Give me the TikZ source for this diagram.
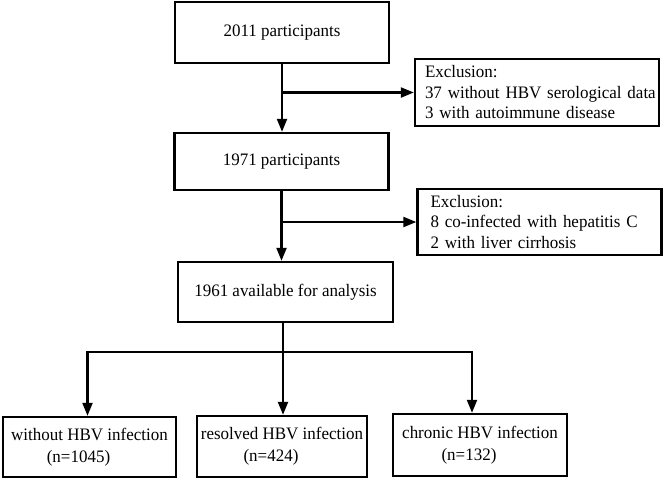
\documentclass[tikz,border=0pt]{standalone}
\usepackage{fontspec}
\setmainfont[FakeStretch=0.97]{Liberation Serif}
\usetikzlibrary{arrows.meta}

\begin{document}
\begin{tikzpicture}[x=1pt, y=-1pt,
    font=\fontsize{17.5}{20.5}\selectfont,
    box/.style={rectangle, draw, line width=2.4pt, align=center, inner sep=0pt},
    exclbox/.style={rectangle, draw, line width=2.4pt, align=left, text width=218pt, inner xsep=13pt, inner ysep=0pt, minimum height=67pt},
    arr/.style={line width=2.2pt, -{Triangle[length=13pt, width=10pt]}}]
\useasboundingbox (0,0) rectangle (664,480);

% Main flow
\node[box, minimum width=214pt, minimum height=61pt] (p2011) at (282,32.5) {2011 participants};
\node[box, minimum width=214pt, minimum height=57pt] (p1971) at (281.5,161.5) {1971 participants};
\node[box, minimum width=215pt, minimum height=60pt] (p1961) at (285.5,292) {1961 available for analysis};

% Exclusions
\node[exclbox, text width=224pt, inner xsep=10pt] (ex1) at (537,92.5) {Exclusion:\\\mbox{37 without HBV serological data}\\3 with autoimmune disease};
\node[exclbox, minimum height=66pt] (ex2) at (539.5,222) {Exclusion:\\\mbox{8 co-infected with hepatitis C}\\2 with liver cirrhosis};

% Groups
\node[box, minimum width=173pt, minimum height=60pt] (g1) at (89.5,447) {without HBV infection\\[1.5pt](n=1045)\hspace*{22pt}};
\node[box, minimum width=170pt, minimum height=61pt] (g2) at (282,446.5) {resolved HBV infection\\[1.5pt](n=424)\hspace*{22pt}};
\node[box, minimum width=174pt, minimum height=62pt] (g3) at (480,445) {chronic HBV infection\\[1.5pt](n=132)\hspace*{22pt}};

% Connectors
\coordinate (s1) at (p2011.south |- ex1.west);
\coordinate (s2) at (p1971.south |- ex2.west);
\coordinate (s3) at (283,352);
\draw[arr] (p2011.south) -- (p2011.south |- p1971.north);
\draw[arr] (s1) -- (ex1.west);
\draw[arr] (p1971.south) -- (p1971.south |- p1961.north);
\draw[arr] (s2) -- (ex2.west);
\draw[line width=2.2pt] (s3 |- p1961.south) -- (s3);
\draw[arr] (s3) -| ([xshift=-2pt]g1.north);
\draw[arr] (s3) -- (s3 |- g2.north);
\draw[arr] (s3) -| ([xshift=-8pt]g3.north);
\end{tikzpicture}
\end{document}
